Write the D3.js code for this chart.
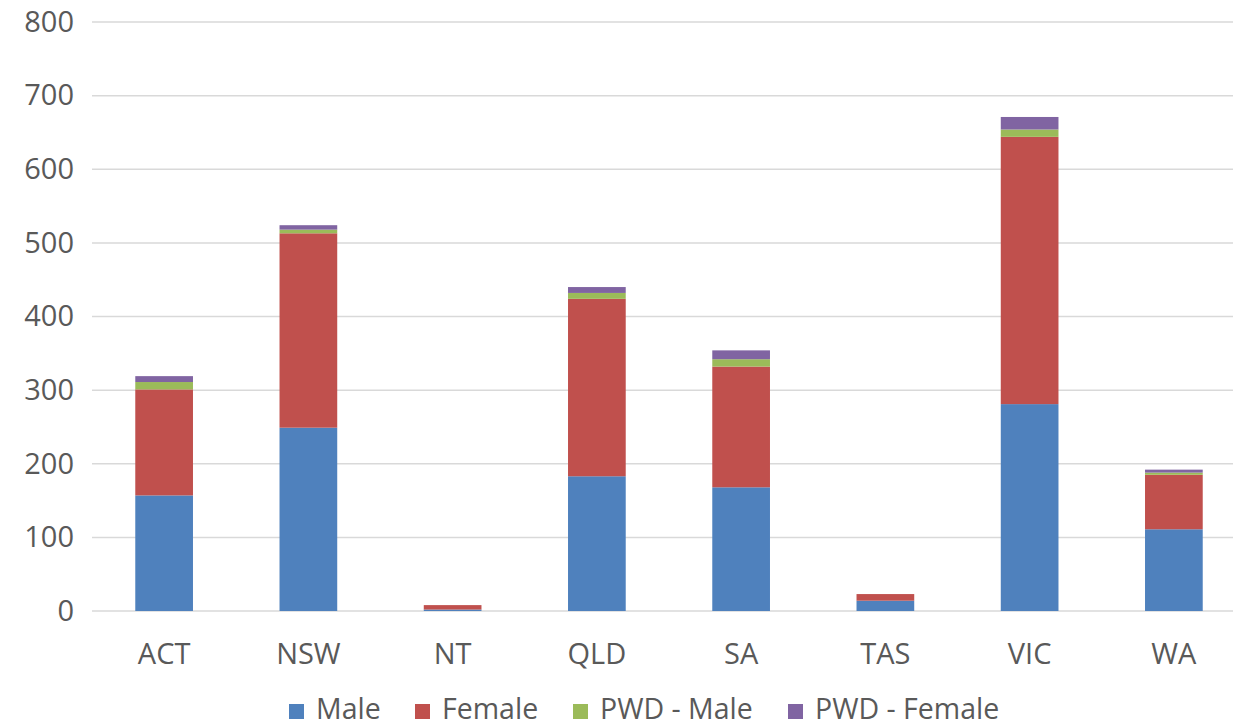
<!DOCTYPE html>
<html><head><meta charset="utf-8">
<script src="https://cdn.jsdelivr.net/npm/d3@7"></script>
<style>body{margin:0;background:#fff}svg{display:block}</style>
</head><body>
<svg id="c" width="1233" height="728"></svg>
<script>
const categories = ["ACT","NSW","NT","QLD","SA","TAS","VIC","WA"];
const seriesNames = ["Male","Female","PWD - Male","PWD - Female"];
const male      = [157, 249, 2, 183, 168, 14, 281, 111];
const female    = [144, 264, 6, 241, 164, 9, 363, 74];
const pwdMale   = [10, 5, 0, 8, 10, 0, 10, 3];
const pwdFemale = [8, 6, 0, 8, 12, 0, 17, 4];
const yTicks = [0,100,200,300,400,500,600,700,800];
const colors = ["#4f81bd","#c0504d","#9bbb59","#8064a2"];

const svg = d3.select("#c");
const font = "'Open Sans', sans-serif";
const x = d3.scaleBand().domain(categories).range([92, 1246]).paddingInner(0.6).paddingOuter(0.3);
const y = d3.scaleLinear().domain([0, 800]).range([611, 22]);

svg.append("g").selectAll("line").data(yTicks).join("line")
  .attr("x1", 92).attr("x2", 1233)
  .attr("y1", d => y(d)).attr("y2", d => y(d))
  .attr("stroke", "#d9d9d9").attr("stroke-width", 1.5);

const rows = categories.map((c, i) => ({cat: c, "Male": male[i], "Female": female[i], "PWD - Male": pwdMale[i], "PWD - Female": pwdFemale[i]}));
const stack = d3.stack().keys(seriesNames)(rows);

svg.append("g").selectAll("g").data(stack).join("g")
  .attr("fill", (d, i) => colors[i])
  .selectAll("rect").data(d => d).join("rect")
  .attr("x", d => x(d.data.cat))
  .attr("width", x.bandwidth())
  .attr("y", d => y(d[1]))
  .attr("height", d => Math.max(0, y(d[0]) - y(d[1])));

const yAxis = d3.axisLeft(y).tickValues(yTicks).tickSize(0).tickPadding(0);
const ya = svg.append("g").attr("transform", "translate(74,0)").call(yAxis);
ya.select(".domain").remove();
ya.selectAll("text").attr("font-family", font).attr("font-size", 29).attr("fill", "#595959");

const xAxis = d3.axisBottom(x).tickSize(0).tickPadding(0);
const xa = svg.append("g").attr("transform", "translate(0,643)").call(xAxis);
xa.select(".domain").remove();
xa.selectAll("text").attr("font-family", font).attr("font-size", 29).attr("fill", "#595959");

const legendX = [289, 415, 573, 788];
const lg = svg.append("g");
seriesNames.forEach((s, i) => {
  lg.append("rect").attr("x", legendX[i]).attr("y", 704).attr("width", 15).attr("height", 15).attr("fill", colors[i]);
  lg.append("text").attr("x", legendX[i] + 27).attr("y", 719)
    .attr("font-family", font).attr("font-size", 28.5).attr("fill", "#595959").text(s);
});
</script>
</body></html>
